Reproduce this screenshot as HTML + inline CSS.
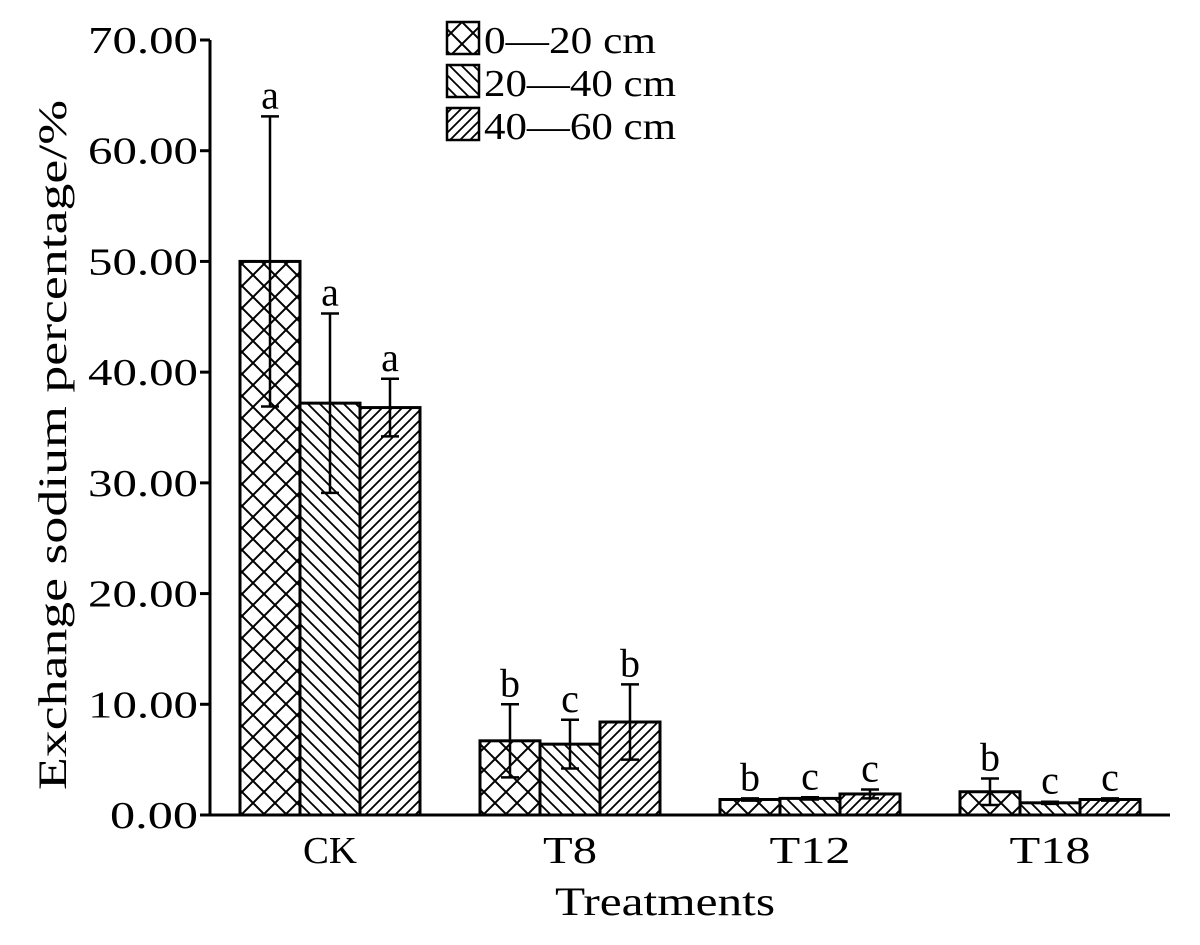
<!DOCTYPE html>
<html><head><meta charset="utf-8"><style>
html,body{margin:0;padding:0;background:#fff;}
svg text{font-family:"Liberation Serif","Noto Serif CJK SC",serif;fill:#000;}
</style></head><body>
<svg id="chart" width="1200" height="940" viewBox="0 0 1200 940" xmlns="http://www.w3.org/2000/svg">
<defs>
<pattern id="p0" patternUnits="userSpaceOnUse" width="22" height="22"><path d="M0,0 L22,22 M22,0 L0,22 M-11,11 L11,-11 M11,33 L33,11 M-11,11 L11,33 M11,-11 L33,11" stroke="#000" stroke-width="2"/></pattern>
<pattern id="p1" patternUnits="userSpaceOnUse" width="12" height="12"><path d="M-3,-3 L15,15 M-3,9 L3,15 M9,-3 L15,3" stroke="#000" stroke-width="1.8"/></pattern>
<pattern id="p2" patternUnits="userSpaceOnUse" width="10" height="10"><path d="M-3,13 L13,-3 M-3,3 L3,-3 M7,13 L13,7" stroke="#000" stroke-width="1.8"/></pattern>
</defs>
<g id="plot"></g>
</svg>
<script>
const categories=["CK","T8","T12","T18"];
const seriesNames=["0\u201420 cm","20\u201440 cm","40\u201460 cm"];
const s0=[50.0,6.7,1.4,2.1];
const s1=[37.2,6.4,1.5,1.1];
const s2=[36.8,8.4,1.9,1.4];
const e0=[13.1,3.3,0.1,1.2];
const e1=[8.1,2.2,0.1,0.1];
const e2=[2.6,3.4,0.4,0.1];
const l0=["a","b","b","b"];
const l1=["a","c","c","c"];
const l2=["a","b","c","c"];
const yTicks=[0,10,20,30,40,50,60,70];
const yTickLabels=["0.00","10.00","20.00","30.00","40.00","50.00","60.00","70.00"];

const NS="http://www.w3.org/2000/svg";
const g=document.getElementById('plot');
const X0=210,X1=1170,Y0=815,Y1=40,YMAX=70;
const y=v=>Y0-(v/YMAX)*(Y0-Y1);
const band=(X1-X0)/categories.length;
const bw=60;
const x=(ci,si)=>X0+band*ci+band/2-1.5*bw+si*bw;
function el(t,a,txt){const e=document.createElementNS(NS,t);for(const k in a)e.setAttribute(k,a[k]);if(txt!==undefined)e.textContent=txt;g.appendChild(e);return e;}
const S=[s0,s1,s2],E=[e0,e1,e2],L=[l0,l1,l2];
S.forEach((arr,si)=>arr.forEach((v,ci)=>{
  const bx=x(ci,si);
  const r=el('rect',{x:bx,y:y(v),width:bw,height:Y0-y(v),fill:'url(#p'+si+')',stroke:'#000','stroke-width':3});
  
  
  const cx=bx+bw/2,t=y(v+E[si][ci]),b=y(Math.max(0,v-E[si][ci]));
  const eb=el('path',{d:`M${cx},${t} L${cx},${b} M${cx-9},${t} L${cx+9},${t} M${cx-9},${b} L${cx+9},${b}`,stroke:'#000','stroke-width':2.5,fill:'none'});
  
  
  const lt=el('text',{x:cx,y:t-8,'text-anchor':'middle','font-size':40},L[si][ci]);
  
  
}));
const ax=el('path',{d:`M${X0},${Y1} L${X0},${Y0} L${X1},${Y0}`,stroke:'#000','stroke-width':3,fill:'none'});


yTicks.forEach((v,i)=>{
  const tk=el('line',{x1:X0-10,x2:X0,y1:y(v),y2:y(v),stroke:'#000','stroke-width':3});
  
  
  const w=yTickLabels[i].length===5?110:88;
  const tl=el('text',{x:X0-12-w,y:y(v)+13,'font-size':38,textLength:w,lengthAdjust:'spacingAndGlyphs'},yTickLabels[i]);
  
  
});
categories.forEach((c,ci)=>{
  const w=c.length*27;
  const t=el('text',{x:X0+band*ci+band/2-w/2,y:863,'font-size':38,textLength:w,lengthAdjust:'spacingAndGlyphs'},c);
  
  
});
const xt=el('text',{x:555,y:915,'font-size':40,textLength:220,lengthAdjust:'spacingAndGlyphs'},'Treatments');


const yt=el('text',{x:0,y:0,'font-size':40,textLength:690,lengthAdjust:'spacingAndGlyphs',transform:'translate(66,790) rotate(-90)'},'Exchange sodium percentage/%');


const legW=[172,192,192];
seriesNames.forEach((n,si)=>{
  const yy=22+si*43;
  const r=el('rect',{x:447,y:yy,width:32,height:32,fill:'url(#p'+si+')',stroke:'#000','stroke-width':2.5});
  
  
  const t=el('text',{x:484,y:yy+31,'font-size':38,textLength:legW[si],lengthAdjust:'spacingAndGlyphs'},n);
  
  
});
</script>
</body></html>
